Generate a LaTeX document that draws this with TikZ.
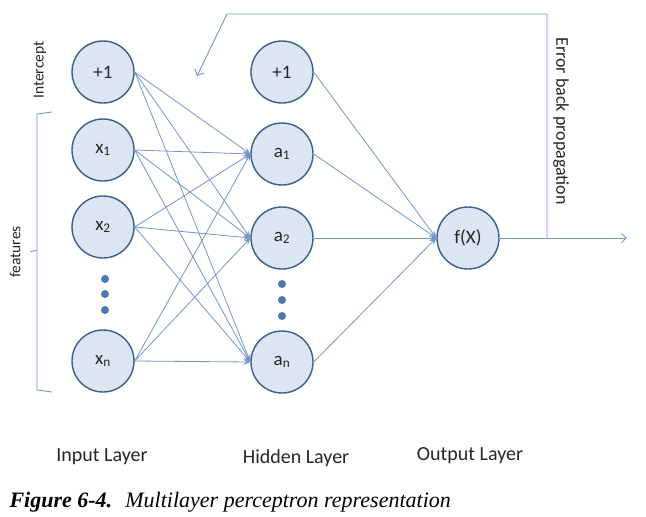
\documentclass[tikz,border=0pt]{standalone}
\usepackage{fontspec}
\setmainfont{Carlito}
\newfontfamily\capfont{Liberation Serif}
\usetikzlibrary{arrows.meta}
\definecolor{nfill}{HTML}{DCE6F2}
\definecolor{nborder}{HTML}{3A5F8C}
\definecolor{link}{HTML}{7396C6}
\definecolor{dotc}{HTML}{4A78B0}
\begin{document}
\begin{tikzpicture}[x=1pt,y=-1pt,
  neuron/.style={circle,draw=nborder,fill=nfill,line width=1.4pt,minimum size=62pt,inner sep=0pt,font=\fontsize{19}{21}\selectfont,text=black!85},
  link/.style={draw=link,line width=0.8pt,-{Stealth[length=7pt,width=6pt,inset=3pt]}},
  plain/.style={draw=link,line width=0.9pt},
  dot/.style={circle,fill=dotc,inner sep=0pt,minimum size=8pt},
  lbl/.style={font=\fontsize{20}{22}\selectfont,text=black!85}]
\useasboundingbox (0,0) rectangle (646,517);
% input layer
\node[neuron] (i0) at (103,72) {+1};
\node[neuron] (i1) at (103,150) {x\textsubscript{1}};
\node[neuron] (i2) at (103,227) {x\textsubscript{2}};
\node[neuron] (in) at (103,361) {x\textsubscript{n}};
\node[dot] (d1) at (105,279) {};
\node[dot] (d2) at (105,294) {};
\node[dot] (d3) at (105,310) {};
% hidden layer
\node[neuron] (h0) at (282,72) {+1};
\node[neuron] (h1) at (282,154) {a\textsubscript{1}};
\node[neuron] (h2) at (282,238) {a\textsubscript{2}};
\node[neuron] (hn) at (282,362) {a\textsubscript{n}};
\node[dot] (e1) at (282,284) {};
\node[dot] (e2) at (282,300) {};
\node[dot] (e3) at (282,316) {};
% output
\node[neuron] (o) at (468,238) {f(X)};
% connections
\foreach \s in {i0,i1,i2,in}{
  \foreach \t in {h1,h2,hn}{
    \draw[link] (\s.east) -- (\t.west);
  }
}
\foreach \s in {h0,h1,h2,hn}{
  \draw[link] (\s.east) -- (o.west);
}
% output arrow and feedback
\coordinate (out) at (627,238);
\coordinate (fb1) at (547,238);
\coordinate (fb2) at (547,14);
\coordinate (fb3) at (227,14);
\coordinate (fb4) at (197,76);
\draw[link,-{Straight Barb[length=5pt,width=9pt]}] (o.east) -- (out);
\draw[plain,-{Straight Barb[length=5pt,width=10pt]}] (fb1) -- (fb2) -- (fb3) -- (fb4);
\node[lbl,rotate=-90,font=\fontsize{18}{20}\selectfont] (ebp) at (561,121) {Error back propagation};
% left labels
\node[lbl,rotate=90,font=\fontsize{15.5}{17}\selectfont] (icp) at (40,70) {Intercept};
\node[lbl,rotate=90,font=\fontsize{15.5}{17}\selectfont] (feat) at (15,252) {features};
\coordinate (b1) at (52,112);
\coordinate (b2) at (37,114);
\coordinate (b3) at (37,250);
\coordinate (b4) at (30,252);
\coordinate (b5) at (37,390);
\coordinate (b6) at (52,392);
\draw[plain] (b1) -- (b2) -- (b3) -- (b4);
\draw[plain] (b3) -- (b5) -- (b6);
% layer labels
\node[lbl] (li) at (102,457) {Input Layer};
\node[lbl] (lh) at (296,458) {Hidden Layer};
\node[lbl] (lo) at (470,456) {Output Layer};
% caption
\node[anchor=west,font=\capfont\fontsize{22}{25}\selectfont\itshape] (cap) at (6,502) {\textbf{Figure 6-4.}\hspace{0.6em}Multilayer perceptron representation};
\end{tikzpicture}
\end{document}
